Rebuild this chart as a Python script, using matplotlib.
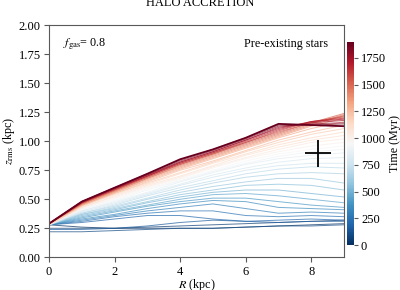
"""Halo accretion: z_rms profiles of pre-existing stars coloured by time."""
import matplotlib

matplotlib.use("Agg")
import matplotlib.pyplot as plt
from matplotlib import cm, colors

plt.rcParams["font.family"] = ["Liberation Serif", "DejaVu Serif"]
plt.rcParams["mathtext.fontset"] = "stix"
plt.rcParams["font.size"] = 9

# radius grid (kpc)
radius = [0, 1, 2, 3, 4, 5, 6, 7, 8, 9]

# snapshot times (Myr)
times = [0, 50, 100, 150, 200, 250, 300, 350, 400, 450, 500, 550, 600, 650,
         700, 750, 800, 850, 900, 950, 1000, 1050, 1100, 1150, 1200, 1250,
         1300, 1350, 1400, 1450, 1500, 1550, 1600, 1650, 1700, 1750, 1800,
         1850, 1900]

# z_rms (kpc) at each radius, one row per snapshot
z_rms = [
    [.28, .26, .25, .25, .25, .25, .26, .27, .28, .29],
    [.25, .25, .25, .26, .27, .28, .29, .30, .31, .32],
    [.22, .22, .23, .24, .25, .25, .26, .27, .27, .28],
    [.24, .24, .25, .27, .30, .32, .31, .30, .31, .31],
    [.28, .30, .33, .36, .36, .33, .31, .32, .33, .32],
    [.28, .31, .35, .38, .40, .40, .36, .35, .36, .35],
    [.28, .32, .36, .40, .43, .46, .42, .38, .39, .38],
    [.28, .33, .37, .42, .46, .49, .48, .43, .42, .41],
    [.28, .34, .39, .44, .48, .51, .51, .48, .45, .43],
    [.28, .35, .40, .45, .50, .54, .55, .53, .50, .47],
    [.28, .36, .41, .47, .52, .56, .58, .58, .55, .52],
    [.28, .37, .42, .48, .54, .58, .62, .63, .62, .58],
    [.28, .37, .43, .50, .56, .61, .65, .68, .68, .64],
    [.28, .38, .44, .51, .58, .64, .69, .72, .73, .72],
    [.28, .38, .45, .53, .60, .66, .72, .76, .78, .77],
    [.28, .39, .46, .54, .62, .69, .75, .79, .81, .81],
    [.28, .40, .47, .55, .63, .71, .77, .82, .85, .86],
    [.28, .40, .48, .56, .65, .73, .80, .85, .88, .90],
    [.28, .41, .49, .58, .66, .74, .81, .87, .91, .93],
    [.28, .42, .50, .59, .67, .75, .83, .89, .93, .96],
    [.28, .42, .51, .60, .68, .77, .85, .91, .96, .99],
    [.28, .43, .52, .61, .69, .78, .86, .93, .99, 1.02],
    [.28, .43, .53, .62, .70, .79, .88, .95, 1.01, 1.05],
    [.28, .44, .54, .63, .72, .81, .89, .97, 1.03, 1.08],
    [.28, .44, .55, .64, .73, .82, .91, .99, 1.06, 1.11],
    [.29, .45, .55, .65, .75, .83, .92, 1.01, 1.08, 1.14],
    [.29, .45, .56, .66, .76, .85, .94, 1.03, 1.11, 1.17],
    [.29, .45, .56, .67, .77, .86, .95, 1.04, 1.13, 1.20],
    [.29, .46, .57, .68, .78, .87, .96, 1.05, 1.14, 1.22],
    [.29, .46, .57, .68, .79, .88, .97, 1.06, 1.15, 1.23],
    [.29, .46, .58, .69, .80, .89, .98, 1.07, 1.16, 1.24],
    [.29, .47, .58, .69, .80, .89, .99, 1.08, 1.16, 1.22],
    [.29, .47, .58, .70, .81, .90, .99, 1.09, 1.17, 1.21],
    [.29, .47, .59, .70, .81, .90, 1.00, 1.10, 1.17, 1.20],
    [.29, .47, .59, .70, .82, .91, 1.01, 1.11, 1.17, 1.19],
    [.29, .48, .59, .71, .82, .91, 1.01, 1.12, 1.16, 1.18],
    [.29, .48, .60, .71, .83, .92, 1.02, 1.13, 1.15, 1.16],
    [.29, .48, .60, .72, .84, .93, 1.03, 1.14, 1.14, 1.15],
    [.29, .48, .60, .72, .845, .93, 1.03, 1.15, 1.14, 1.13],
]

# solar neighbourhood constraint
sun_r, sun_z = 8.2, 0.895
sun_r_err, sun_z_err = 0.4, 0.115

fig = plt.figure(figsize=(4, 2.9), dpi=100)
ax = fig.add_axes([0.1225, 0.1128, 0.7375, 0.80])
cax = fig.add_axes([0.8675, 0.155, 0.0175, 0.701])

cmap = plt.get_cmap("RdBu_r")
norm = colors.Normalize(vmin=0, vmax=1900)

for t, z in zip(times[:-1], z_rms[:-1]):
    ax.plot(radius, z, color=cmap(norm(t)), lw=0.7, alpha=0.7)
ax.plot(radius, z_rms[-1], color=cmap(norm(times[-1])), lw=1.3)

ax.errorbar(sun_r, sun_z, xerr=sun_r_err, yerr=sun_z_err, color="k",
            lw=1.3, capsize=0)

ax.set_xlim(0, 9)
ax.set_ylim(0, 2)
ax.set_yticks([0, 0.25, 0.5, 0.75, 1.0, 1.25, 1.5, 1.75, 2.0])
ax.set_yticklabels([f"{v:.2f}" for v in ax.get_yticks()])
ax.set_xticks([0, 2, 4, 6, 8])
ax.set_xlabel("$R$ (kpc)", labelpad=-0.5, fontsize=8.7)
ax.set_ylabel(r"$z_{\rm rms}$ (kpc)", labelpad=1, fontsize=8.7)
for spine in ax.spines.values():
    spine.set_color("0.35")
ax.tick_params(color="0.35", length=3.5, pad=2.5)

ax.text(0.047, 0.917, r"$f_{\rm gas}$= 0.8", transform=ax.transAxes,
        ha="left", va="center", fontsize=8.7)
ax.text(0.946, 0.919, "Pre-existing stars", transform=ax.transAxes,
        ha="right", va="center", fontsize=8.7)

sm = cm.ScalarMappable(norm=norm, cmap=cmap)
cb = fig.colorbar(sm, cax=cax)
cb.set_ticks([0, 250, 500, 750, 1000, 1250, 1500, 1750])
cb.set_label("Time (Myr)", labelpad=2, fontsize=8.7)
cb.outline.set_visible(False)
cax.tick_params(length=3, color="0.35", pad=2)

fig.text(0.5, 0.979, "HALO ACCRETION", ha="center", va="baseline", fontsize=9)

fig.savefig("out.png", dpi=100)
